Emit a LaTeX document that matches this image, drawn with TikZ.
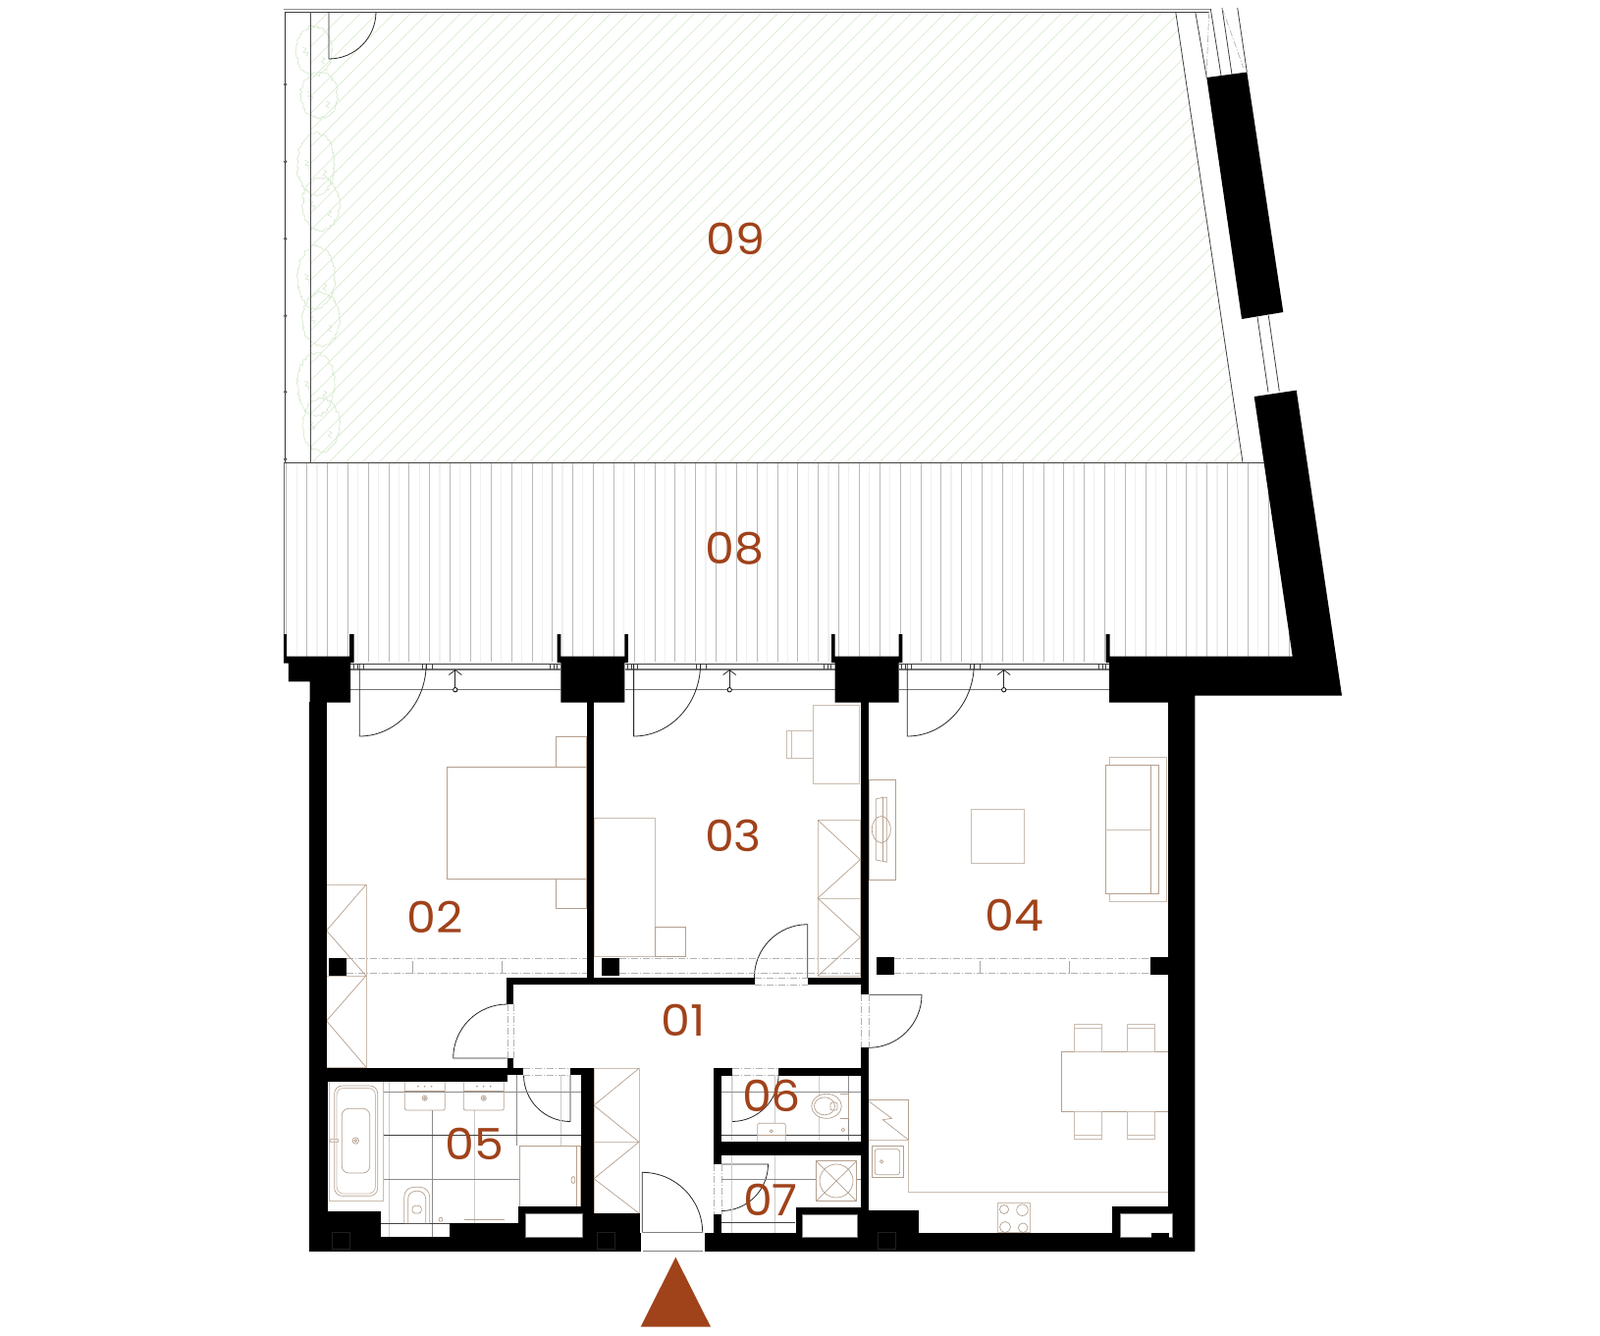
\documentclass[tikz,border=0pt]{standalone}
\usepackage{fontspec}
\setmainfont{Poppins}[FakeStretch=1.08]
\usepackage{tikz}
\usetikzlibrary{positioning, arrows.meta, decorations.pathmorphing}
\definecolor{rust}{HTML}{A0421A}
\definecolor{tan}{HTML}{B5A08E}
\definecolor{leaf}{HTML}{D3E8C9}

\begin{document}
\begin{tikzpicture}[x=1pt, y=-1pt,
  room node/.style={font=\fontsize{44}{44}\selectfont, text=rust, inner sep=0pt},
  wall/.style={fill=black},
  thin line/.style={draw=black!75, line width=0.8pt},
  frame line/.style={draw=black!55, line width=1.1pt},
  door line/.style={draw=black!85, line width=0.8pt},
  sill line/.style={draw=black!30, line width=0.7pt, dash pattern=on 7pt off 2pt on 1pt off 2pt},
  item/.style={draw=tan, line width=0.7pt},
  pale item/.style={draw=tan!70, line width=0.8pt},
  tile/.style={draw=black!20, line width=0.9pt},
  mid tile/.style={draw=black!45, line width=0.6pt},
  dark tile/.style={draw=black!75, line width=0.6pt},
  niche/.style={fill=white, draw=black!50, line width=0.5pt},
  bush/.style={draw=leaf, line width=0.6pt, decorate, decoration={random steps, segment length=2pt, amplitude=1.5pt}}]

\useasboundingbox[fill=white] (0,0) rectangle (1630,1360);

\begin{scope}
\clip (316.7,12) -- (1197.7,12) -- (1266,471) -- (316.7,471) -- cycle;
\foreach \c in {330,347,...,1750}
  \draw[leaf, line width=0.45pt] (\c,0) -- (\c-480,480);
\end{scope}

\foreach \bx/\by/\rx/\ry in {320/52/18/25, 325/97/19/23, 322/167/19/32, 327/208/19/27,
  322/283/19/32, 327/325/19/27, 322/392/19/32, 327/433/19/27} {
  \draw[bush] (\bx,\by) ellipse [x radius=\rx, y radius=\ry];
  \draw[leaf, line width=0.6pt] (\bx-12,\by-4) -- ++(4,2) -- ++(-3,3) -- ++(5,1) -- ++(-2,3);
  \draw[leaf, line width=0.6pt] (\bx+8,\by+6) -- ++(3,2) -- ++(-4,3) -- ++(4,2);
}

\foreach \k in {0,...,49} {
  \draw[draw=black!27, line width=0.5pt] (291.7+\k*20.84,471) -- (291.7+\k*20.84,674);
  \draw[draw=black!6, line width=1.2pt] (302.1+\k*20.84,471) -- (302.1+\k*20.84,674);
}
\draw[thin line] (289,471) -- (1288,471);
\draw[draw=black!60, line width=1.6pt] (289.5,471) -- (289.5,646);

\draw[draw=black!45, line width=0.9pt] (289,9) -- (1233,9);
\draw[thin line] (290,12.3) -- (1232,12.3);
\draw[draw=black!80, line width=1.2pt] (290.7,12) -- (290.7,471);
\draw[draw=black!70, line width=1.1pt] (316.7,12) -- (316.7,471);
\foreach \py in {86,164.7,243.3,321.7,399.3,467.7}
  \draw[thin line, fill=white] (290.7,\py) circle (1.2);

\draw[thin line] (1197.7,12) -- (1266,471);
\draw[thin line] (1217.7,12) -- (1229.3,79);
\draw[thin line] (1233.3,9) -- (1244,77);
\draw[thin line] (1245,8) -- (1255,76);
\draw[thin line] (1260.7,8) -- (1270.3,73.5);
\draw[thin line] (1281,323) -- (1292,399.5);
\draw[thin line] (1292.3,321.4) -- (1303.3,398.5);
\draw[sill line] (1231.7,12) -- (1229,79);
\draw[sill line] (1245,8) -- (1266.7,69);

\foreach \xa/\xb/\xc in {357/571.3/463.8, 636.5/850.7/743.2, 915.7/1130/1022.7} {
  \draw[thin line] (\xa,676) -- (\xb,676);
  \draw[frame line] (\xa,682) -- (\xb,682);
  \draw[frame line] (\xa,702.7) -- (\xb,702.7);
  \draw[door line, -{Straight Barb[length=5pt, width=13pt]}] (\xc,702.7) -- (\xc,682);
  \draw[draw=black, line width=0.8pt, fill=white] (\xc,702.7) circle (2.2);
  \draw[thin line, line width=0.5pt] (\xa+3,676) -- (\xa+3,682) (\xa+7,676) -- (\xa+7,682) (\xa+13,676) -- (\xa+13,682)
    (\xa+73,676) -- (\xa+73,682) (\xa+77,676) -- (\xa+77,682) (\xa+83,676) -- (\xa+83,682)
    (\xb-4,676) -- (\xb-4,682) (\xb-7,676) -- (\xb-7,682) (\xb-11,676) -- (\xb-11,682);
}

\foreach \lx in {366.2,645.6,924.3}
  \draw[door line] (\lx,676) -- (\lx,750) arc [start angle=90, end angle=0, x radius=68, y radius=74];

\foreach \cx/\cy/\sa/\ea/\r in {335/12/90/0/48,
  516.7/1078/180/270/55, 822.7/996/270/180/54.3, 885/1013.3/0/90/54,
  581/1095/90/180/47.5, 745.6/1095/90/0/47.5, 735/1186/0/90/47.5, 654.3/1255.7/270/360/61.4}
  \draw[door line] (\cx,\cy) -- ++(\sa:\r) arc [start angle=\sa, end angle=\ea, radius=\r];

\draw[sill line] (517,1023) -- (517,1078) (523.3,1023) -- (523.3,1078);
\draw[sill line] (769,996) -- (822.7,996) (769,1003) -- (822.7,1003);
\draw[sill line] (877,1013) -- (877,1067) (885,1013) -- (885,1067);
\draw[sill line] (533,1088.3) -- (581,1088.3) (533,1095) -- (581,1095);
\draw[sill line] (745.6,1088.3) -- (793,1088.3) (745.6,1095.7) -- (793,1095.7);
\draw[sill line] (727,1186) -- (727,1236.7) (735,1186) -- (735,1236.7);

\foreach \xa/\xb in {353/598, 631/877, 911/1172} {
  \draw[sill line] (\xa,976) -- (\xb,976);
  \draw[sill line] (\xa,991.7) -- (\xb,991.7);
}
\foreach \tx in {420.3,511.2,998.3,1089.3}
  \draw[draw=black!35, line width=0.5pt] (\tx,979) -- (\tx,991.7);

\draw[tile] (396,1101.7) -- (396,1260) (483.3,1131) -- (483.3,1246) (571,1095) -- (571,1167)
  (745.6,1095) -- (745.6,1162) (834,1095) -- (834,1162) (745.6,1176) -- (745.6,1256) (789.5,1095) -- (789.5,1162) (789.5,1176) -- (789.5,1256);
\draw[mid tile] (440,1131) -- (440,1260) (526.7,1095) -- (526.7,1167)
  (390,1112.3) -- (592,1112.3) (390,1201.3) -- (529,1201.3)
  (735,1112.3) -- (877,1112.3) (863.9,1095) -- (863.9,1162) (735,1201.3) -- (877,1201.3);
\draw[dark tile] (388,1246) -- (528,1246) (390,1156.3) -- (592,1156.3)
  (735,1156.3) -- (877,1156.3) (735,1245.7) -- (810,1245.7);

\draw[item] (455.5,781) rectangle (597.4,895.7);
\draw[item] (566,750.3) rectangle (597.4,781);
\draw[item] (566,895.7) rectangle (597.4,925.7);
\draw[pale item] (332.6,901.3) rectangle (372.9,1087);
\draw[pale item] (332.6,994) -- (372.9,994);
\draw[item] (372.9,901.3) -- (332.6,948) -- (372.9,994) -- (332.6,1040) -- (372.9,1087);

\draw[pale item] (828.2,718.3) rectangle (875.6,798.3);
\draw[pale item] (801.7,744.7) rectangle (828.2,772);
\draw[pale item] (806,744.7) -- (806,772);
\draw[pale item] (605,833.3) rectangle (667.7,974.3);
\draw[item] (667.7,944.3) rectangle (698.6,974.3);
\draw[pale item] (833,835.3) rectangle (876.4,994.3);
\draw[pale item] (833,915) -- (876.4,915);
\draw[item] (833,835.3) -- (876.4,875.7) -- (833,915) -- (876.4,955) -- (833,994.3);

\draw[item] (885,794) rectangle (912.7,896.3);
\draw[item] (892.3,814) -- (899.3,812.3) -- (903.3,812.3) -- (903.3,878.3) -- (899.3,877.3) -- (892.3,876) -- cycle;
\draw[item] (899.3,812.3) -- (899.3,877.3);
\draw[item] (897.8,845) ellipse [x radius=9.5, y radius=13.5];
\draw[pale item] (989,824.3) rectangle (1043.7,879.3);
\draw[pale item] (1130.3,771.7) rectangle (1188.3,918.3);
\draw[item, fill=white] (1126.3,779.3) rectangle (1180.7,910.3);
\draw[item] (1172.3,779.3) -- (1172.3,910.3);
\draw[pale item] (1126.3,845) -- (1172.3,845);

\draw[item] (1081,1071) rectangle (1190,1132.3);
\foreach \sx in {1094.6,1148.6} {
  \draw[pale item] (\sx,1043.3) rectangle (\sx+27.8,1071);
  \draw[pale item] (\sx,1047.3) -- (\sx+27.8,1047.3);
  \draw[pale item] (\sx,1132.3) rectangle (\sx+27.8,1160);
  \draw[pale item] (\sx,1156.7) -- (\sx+27.8,1156.7);
}
\draw[item] (884.8,1120.3) -- (925.7,1120.3) -- (925.7,1161.3);
\draw[item] (884.8,1121.7) -- (908.5,1139.3) -- (899.3,1140.7) -- (925.7,1161.3);
\draw[pale item] (884.8,1161.3) -- (925.7,1161.3) -- (925.7,1214.7) -- (1190,1214.7);
\draw[item] (888,1167.3) rectangle (920.6,1199.3);
\draw[item, rounded corners=2.5pt] (891.2,1170.7) rectangle (916.6,1196.7);
\draw[item] (898,1183.3) circle (1.7);
\draw[pale item] (1016.6,1225) rectangle (1049.3,1255.7);
\draw[item] (1023,1232) circle (4.6) (1041.5,1232.7) circle (5.8) (1024,1250) circle (5.5) (1042.2,1250.7) circle (4.8);

\draw[pale item] (335.3,1101.7) rectangle (390.7,1223.3);
\draw[item, rounded corners=8pt] (340.7,1106) rectangle (384.7,1218.3);
\draw[pale item, rounded corners=7pt] (343,1108.5) rectangle (382.4,1216);
\draw[item, rounded corners=7pt] (348.3,1129.3) rectangle (376.7,1195);
\draw[item] (362.3,1162) circle (3.2) (362.3,1162) circle (1.4);
\draw[pale item] (336,1160.3) rectangle (344.7,1163.7);
\foreach \wx in {412.3,472.3} {
  \draw[item, rounded corners=2pt] (\wx,1102.3) -- (\wx,1131) -- (\wx+41,1131) -- (\wx+41,1102.3);
  \draw[item] (\wx,1111) -- (\wx+41,1111);
  \draw[item] (\wx+20.4,1118.7) circle (2.6) (\wx+20.4,1118.7) circle (1.1);
  \fill[tan] (\wx+13.5,1106.7) circle (1) (\wx+20.4,1106.7) circle (1) (\wx+27.3,1106.7) circle (1);
}
\draw[item, rounded corners=10pt, fill=white] (411.7,1246) -- (411.7,1209.3) -- (437.7,1209.3) -- (437.7,1246);
\draw[item, rounded corners=8pt] (415.7,1246) -- (415.7,1213.3) -- (433.7,1213.3) -- (433.7,1246);
\draw[item, rounded corners=3pt] (420,1236) -- (420,1228.3) -- (429.3,1228.3) -- (429.3,1236) -- cycle;
\draw[item] (449,1242.3) circle (2);
\draw[item, line width=1pt] (473.3,1242.3) -- (514,1242.3);
\draw[item, fill=white] (529,1167.3) rectangle (591.7,1229.3);
\draw[item] (587.7,1167.3) -- (587.7,1229.3);
\draw[item] (584,1202) ellipse [x radius=2, y radius=3.6];

\draw[pale item] (605,1088.3) rectangle (651,1236);
\draw[pale item] (605,1163.3) -- (651,1163.3);
\draw[item] (651,1088.3) -- (605,1126) -- (651,1163.3) -- (605,1200.7) -- (651,1236);

\draw[item] (856,1114.3) -- (864.5,1114.3) -- (864.5,1139.3) -- (856,1139.3);
\draw[item, fill=white] (842,1126.8) ellipse [x radius=15.3, y radius=12.5];
\draw[item] (840,1126.8) ellipse [x radius=10.5, y radius=9];
\draw[item, rounded corners=2pt] (853,1123) -- (846,1123) -- (846,1131) -- (853,1131) -- cycle;
\draw[item] (858.8,1151) circle (1.8);
\draw[item, rounded corners=2pt, fill=white] (771.6,1162.7) -- (771.6,1144.3) -- (800.3,1144.3) -- (800.3,1162.7);
\draw[item] (771.6,1156.7) -- (800.3,1156.7);
\draw[item] (785.8,1152.3) circle (1.6);
\draw[item, fill=white] (831.4,1182.7) rectangle (872.6,1223.7);
\draw[item] (831.4,1182.7) -- (872.6,1223.7) (831.4,1223.7) -- (872.6,1182.7);
\draw[item] (852,1203) circle (17);

\fill[wall] (289,646) -- (292,646) -- (292,668.7) -- (356,668.7) -- (356,646) -- (360.6,646) -- (360.6,675) -- (357,675)
  -- (357,715.7) -- (315.6,715.7) -- (315.6,694.3) -- (293.8,694.3) -- (293.8,675.7) -- (289,675.7) -- cycle;
\foreach \bx in {571.3,850.7}
  \fill[wall] (\bx-3.6,646) -- (\bx,646) -- (\bx,668.7) -- (\bx+65,668.7) -- (\bx+65,646) -- (\bx+68.6,646) -- (\bx+68.6,675)
    -- (\bx+65,675) -- (\bx+65,715.7) -- (\bx,715.7) -- (\bx,675) -- (\bx-3.6,675) -- cycle;
\fill[wall] (1126.7,646) -- (1130.6,646) -- (1130.6,668.7) -- (1316.7,668.7) -- (1277.7,404) -- (1320.7,397.6) -- (1367,708.5)
  -- (1217.3,708.5) -- (1217.3,1274.5) -- (1190,1274.5) -- (1190,715.7) -- (1130,715.7) -- (1130,675) -- (1126.7,675) -- cycle;
\fill[wall] (1229.3,79) -- (1270.3,73.5) -- (1307.3,318) -- (1265,325) -- cycle;

\fill[wall] (315,715) rectangle (332.7,1274.5);
\fill[wall] (332.7,1088.3) rectangle (334.3,1234);
\fill[wall] (597.8,715) rectangle (605,1003);
\fill[wall] (877,715) rectangle (885,1013.3);
\fill[wall] (516,996) rectangle (769,1003.3);
\fill[wall] (822.7,996) rectangle (885,1003.3);
\fill[wall] (516,996) rectangle (523,1023.3);
\fill[wall] (332.7,1088.3) rectangle (516.7,1101.7);
\fill[wall] (516.7,1077.7) rectangle (523.3,1095);
\fill[wall] (516,1088.3) rectangle (533.3,1095);
\fill[wall] (580.7,1088.3) rectangle (605,1095);
\fill[wall] (591.7,1088.3) rectangle (605,1262);
\fill[wall] (727,1088.3) rectangle (745.6,1095.7);
\fill[wall] (793,1088.3) rectangle (877.4,1095.7);
\fill[wall] (727,1088.3) rectangle (735,1186);
\fill[wall] (727,1236.7) rectangle (735,1260);
\fill[wall] (727,1162.7) rectangle (877.4,1176.7);
\fill[wall] (877.4,1067.3) rectangle (884.8,1240);

\fill[wall] (315,1260) rectangle (652.7,1274.5);
\fill[wall] (718,1255.7) rectangle (1217.3,1274.5);
\fill[wall] (332,1234.3) rectangle (388,1262);
\fill[wall] (457.7,1246) rectangle (528.3,1262);
\fill[wall] (528.3,1229.3) rectangle (592.3,1262);
\fill[wall] (605,1236) rectangle (651.7,1274.5);
\fill[wall] (651,1255.7) rectangle (653,1274.5);
\fill[wall] (810.5,1230) rectangle (877.4,1260);
\fill[wall] (877.4,1233.3) rectangle (935.5,1260);
\fill[wall] (1133.4,1229.3) rectangle (1190,1260);
\draw[niche] (535.7,1236.7) rectangle (593.3,1260);
\draw[niche] (817.6,1237.7) rectangle (873,1260);
\draw[niche] (1140.9,1236.7) rectangle (1194,1260);
\fill[wall] (1173,1256) rectangle (1190.5,1260.5);
\draw[draw=black!50, line width=0.5pt] (655,1255.7) -- (716,1255.7) (655,1274) -- (716,1274);
\foreach \qx in {338,608,894}
  \draw[draw=black!88, line width=0.3pt] (\qx,1255) rectangle (\qx+18,1272);

\foreach \qx/\qy/\qs in {335.3/976/17.7, 613.2/976/17.7, 893.3/975/17.7, 1172/975/18}
  \fill[wall] (\qx,\qy) rectangle (\qx+\qs,\qy+\qs);

\fill[rust] (688.3,1280.7) -- (724,1351.7) -- (652.7,1351.7) -- cycle;

\node[room node] (n09) at (749.5,243) {09};
\node[room node] (n08) at (748.5,559) {08};
\node[room node] (n03) at (747,851) {03};
\node[room node] (n02) at (443.5,934) {02};
\node[room node] (n01) at (695.8,1039) {01};
\node[room node] (n04) at (1033.7,932.5) {04};
\node[room node] (n05) at (483,1165) {05};
\node[room node] (n06) at (786,1116.5) {06};
\node[room node] (n07) at (785,1222.5) {07};

\end{tikzpicture}
\end{document}
